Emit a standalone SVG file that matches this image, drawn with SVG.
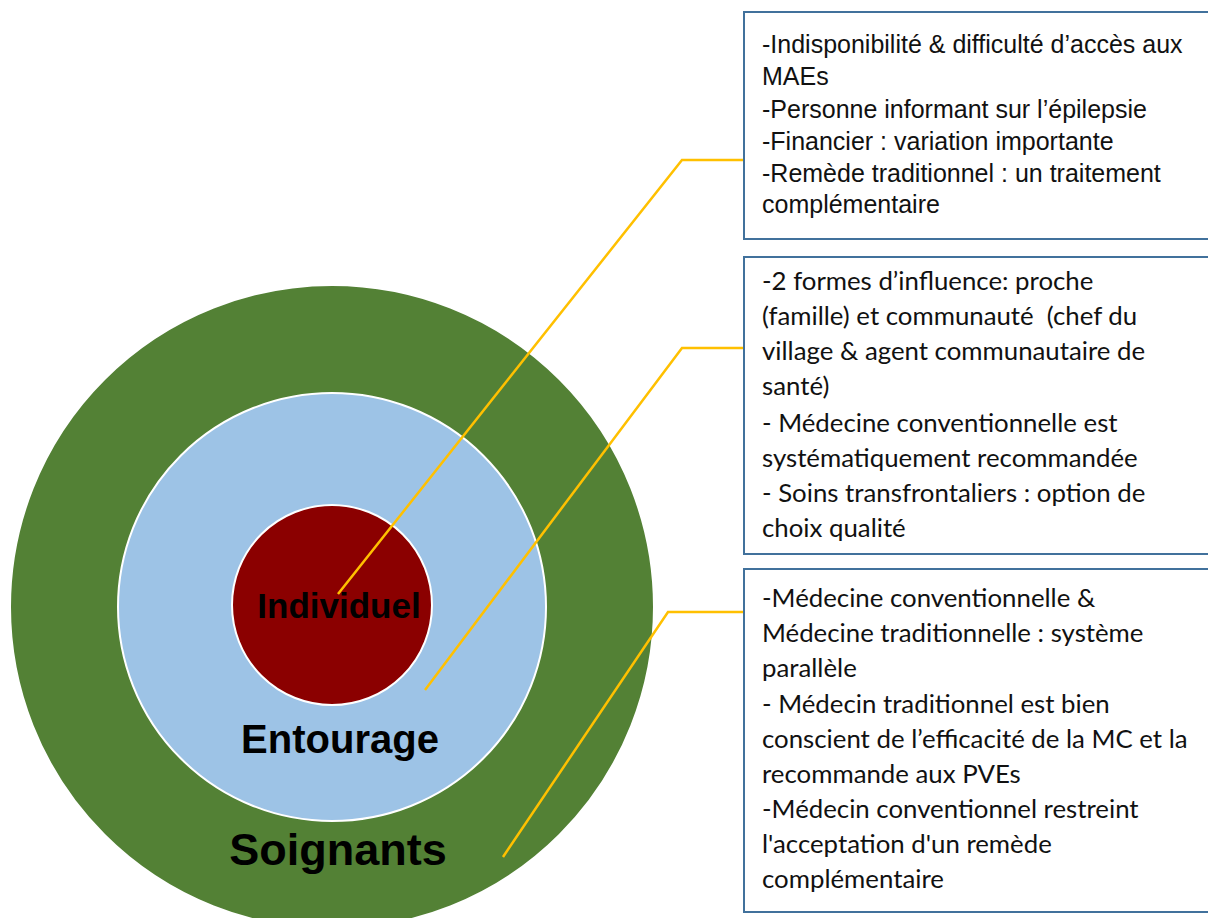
<svg xmlns="http://www.w3.org/2000/svg" width="1208" height="918" viewBox="0 0 1208 918">
<style>
.box{fill:#fff;stroke:#41719C;stroke-width:2}
.a{font-family:"Liberation Sans",Arial,sans-serif;font-size:25px;fill:#111}
.c{font-family:Lato,"Open Sans",sans-serif;font-size:25.8px;fill:#111}
.lbl{font-family:"Liberation Sans",Arial,sans-serif;font-weight:bold;fill:#000;text-anchor:middle}
.con{fill:none;stroke:#FFC000;stroke-width:2.5;stroke-linejoin:miter}
</style>
<rect width="1208" height="918" fill="#fff"/>
<g id="soignants">
<circle cx="332" cy="607" r="322" fill="#538135" stroke="#fff" stroke-width="2"/>
<text class="lbl" x="338" y="865" font-size="45">Soignants</text>
</g>
<g id="entourage">
<circle cx="332" cy="607" r="214" fill="#9DC3E6" stroke="#fff" stroke-width="2"/>
<text class="lbl" x="340" y="753" font-size="40">Entourage</text>
</g>
<g id="individuel">
<circle cx="332" cy="605" r="100" fill="#8B0000" stroke="#fff" stroke-width="2"/>
<text class="lbl" x="339" y="618" font-size="35">Individuel</text>
</g>
<g id="connectors">
<polyline class="con" points="338,594 682,160 744,160"/>
<polyline class="con" points="425,690 682,348 744,348"/>
<polyline class="con" points="503,857 668,612 744,612"/>
</g>
<g id="box1">
<rect class="box" x="744" y="12" width="470" height="227"/>
<text class="a"><tspan x="762" y="53">-Indisponibilité &amp; difficulté d’accès aux</tspan><tspan x="762" y="85">MAEs</tspan><tspan x="762" y="118">-Personne informant sur l’épilepsie</tspan><tspan x="762" y="150">-Financier : variation importante</tspan><tspan x="762" y="182">-Remède traditionnel : un traitement</tspan><tspan x="762" y="213">complémentaire</tspan></text>
</g>
<g id="box2">
<rect class="box" x="744" y="257" width="470" height="297"/>
<text class="c"><tspan x="762" y="290">-2 formes d’influence: proche</tspan><tspan x="762" y="325">(famille) et communauté &#160;(chef du</tspan><tspan x="762" y="360">village &amp; agent communautaire de</tspan><tspan x="762" y="395">santé)</tspan><tspan x="762" y="432">- Médecine conventionnelle est</tspan><tspan x="762" y="467">systématiquement recommandée</tspan><tspan x="762" y="502">- Soins transfrontaliers : option de</tspan><tspan x="762" y="537">choix qualité</tspan></text>
</g>
<g id="box3">
<rect class="box" x="744" y="569" width="470" height="343"/>
<text class="c"><tspan x="762" y="607">-Médecine conventionnelle &amp;</tspan><tspan x="762" y="642">Médecine traditionnelle : système</tspan><tspan x="762" y="677">parallèle</tspan><tspan x="762" y="713">- Médecin traditionnel est bien</tspan><tspan x="762" y="748">conscient de l’efficacité de la MC et la</tspan><tspan x="762" y="783">recommande aux PVEs</tspan><tspan x="762" y="818">-Médecin conventionnel restreint</tspan><tspan x="762" y="853">l'acceptation d'un remède</tspan><tspan x="762" y="888">complémentaire</tspan></text>
</g>
</svg>
